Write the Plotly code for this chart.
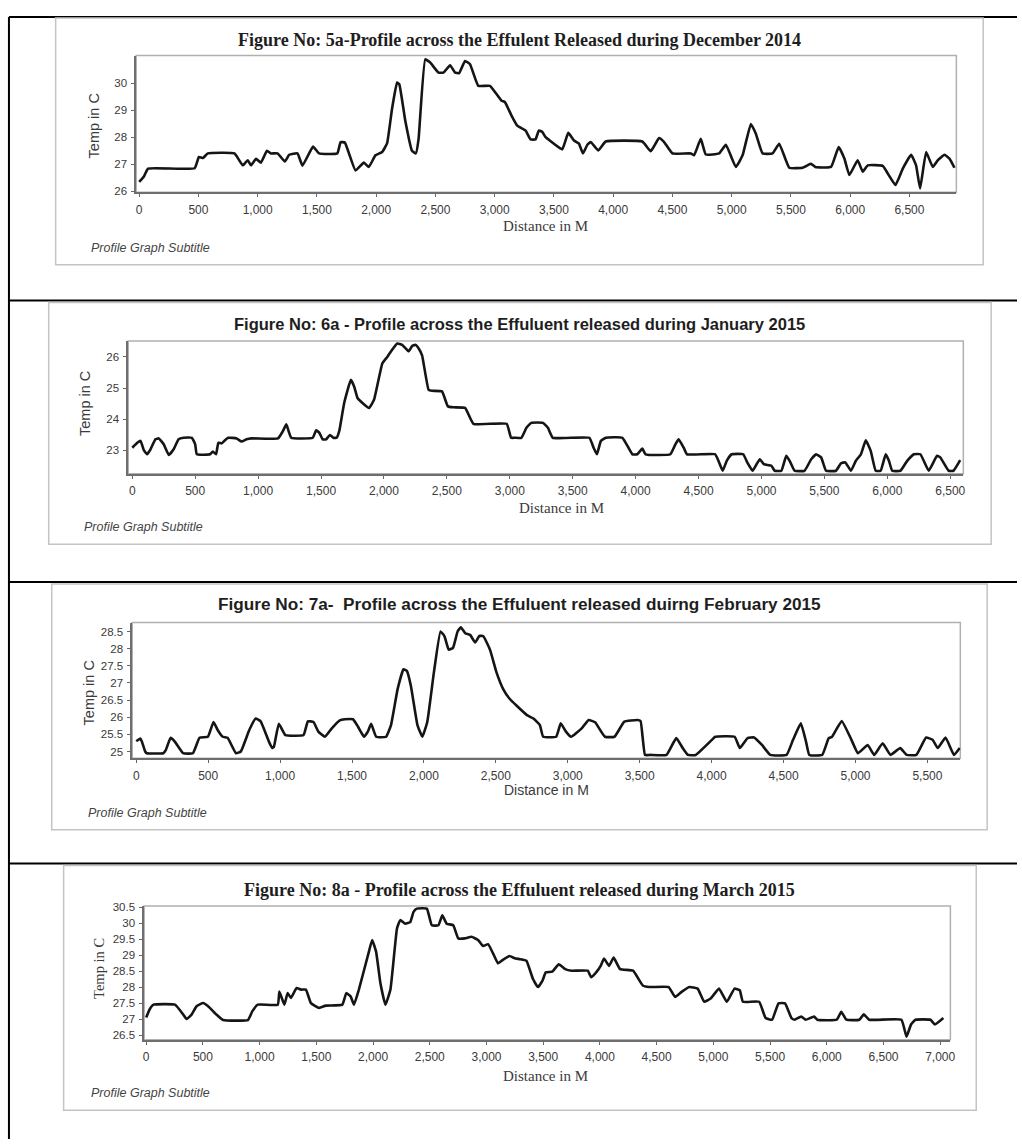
import plotly.graph_objects as go

# ---------------- data: distance (m) and water temperature (deg C) ----------------
dist_dec = [0, 40, 75, 468, 504, 538, 580, 804, 874, 916, 944, 986, 1028, 1078, 1112, 1168,
            1229, 1266, 1336, 1378, 1467, 1518, 1672, 1700, 1736, 1826, 1896, 1938, 1994, 2050,
            2092, 2134, 2176, 2195, 2246, 2302, 2335, 2358, 2414, 2456, 2526, 2568, 2624, 2666,
            2700, 2750, 2792, 2862, 2960, 3058, 3086, 3142, 3190, 3260, 3303, 3345, 3373, 3401,
            3430, 3500, 3570, 3621, 3669, 3711, 3745, 3782, 3810, 3875, 3937, 4246, 4317, 4387,
            4430, 4500, 4655, 4683, 4739, 4782, 4894, 4951, 5035, 5092, 5162, 5204, 5261, 5345,
            5401, 5486, 5599, 5641, 5669, 5706, 5838, 5903, 5951, 5993, 6063, 6106, 6148, 6275,
            6317, 6382, 6444, 6514, 6556, 6590, 6641, 6697, 6740, 6796, 6838, 6880]
temp_dec = [26.35, 26.55, 26.84, 26.85, 27.27, 27.23, 27.40, 27.40, 26.96, 27.15, 26.96, 27.20,
            27.06, 27.50, 27.40, 27.40, 27.10, 27.35, 27.40, 26.95, 27.65, 27.40, 27.40, 27.82,
            27.80, 26.77, 27.06, 26.90, 27.33, 27.45, 27.77, 29.05, 30.02, 29.96, 28.60, 27.50,
            27.40, 27.94, 30.88, 30.76, 30.39, 30.39, 30.66, 30.39, 30.37, 30.82, 30.70, 29.90,
            29.90, 29.35, 29.30, 28.80, 28.43, 28.25, 27.92, 27.92, 28.25, 28.20, 28.00, 27.76,
            27.55, 28.16, 27.88, 27.76, 27.40, 27.72, 27.82, 27.51, 27.84, 27.84, 27.48, 27.97,
            27.82, 27.40, 27.40, 27.33, 27.94, 27.36, 27.40, 27.72, 26.90, 27.33, 28.49, 28.13,
            27.40, 27.40, 27.76, 26.87, 26.87, 26.96, 27.02, 26.90, 26.90, 27.64, 27.21, 26.60,
            27.15, 26.72, 26.96, 26.94, 26.66, 26.23, 26.84, 27.35, 26.96, 26.10, 27.45, 26.90,
            27.15, 27.35, 27.21, 26.87]

dist_jan = [0, 40, 66, 92, 118, 145, 184, 211, 250, 290, 329, 368, 408, 474, 500, 513, 618,
            640, 666, 684, 711, 737, 763, 829, 868, 908, 947, 1158, 1198, 1224, 1263, 1434,
            1461, 1487, 1513, 1540, 1571, 1598, 1624, 1645, 1684, 1737, 1763, 1790, 1829, 1882,
            1921, 1987, 2026, 2053, 2105, 2145, 2197, 2224, 2250, 2276, 2303, 2355, 2382, 2461,
            2508, 2553, 2645, 2711, 2975, 3010, 3039, 3092, 3132, 3171, 3263, 3303, 3342, 3632,
            3666, 3692, 3724, 3763, 3895, 3974, 4013, 4053, 4079, 4276, 4316, 4342, 4382, 4408,
            4632, 4658, 4692, 4724, 4763, 4855, 4887, 4929, 4961, 4987, 5019, 5079, 5105, 5158,
            5197, 5224, 5263, 5342, 5395, 5434, 5474, 5513, 5592, 5632, 5666, 5711, 5750, 5790,
            5829, 5868, 5908, 5947, 5987, 6013, 6039, 6105, 6158, 6211, 6263, 6329, 6395, 6421,
            6487, 6526, 6579]
temp_jan = [23.08, 23.24, 23.30, 23.00, 22.87, 23.03, 23.35, 23.38, 23.19, 22.85, 23.03, 23.35,
            23.40, 23.40, 23.19, 22.87, 22.87, 22.96, 22.87, 23.24, 23.22, 23.32, 23.40, 23.38,
            23.28, 23.35, 23.38, 23.38, 23.62, 23.83, 23.40, 23.40, 23.64, 23.56, 23.35, 23.35,
            23.49, 23.40, 23.40, 23.62, 24.52, 25.26, 25.05, 24.68, 24.52, 24.36, 24.62, 25.79,
            26.00, 26.16, 26.43, 26.39, 26.18, 26.35, 26.39, 26.27, 26.05, 24.94, 24.91, 24.89,
            24.41, 24.38, 24.36, 23.85, 23.85, 23.40, 23.40, 23.40, 23.72, 23.88, 23.88, 23.72,
            23.40, 23.40, 23.08, 22.87, 23.30, 23.40, 23.40, 22.87, 22.87, 23.05, 22.87, 22.87,
            23.19, 23.35, 23.08, 22.87, 22.87, 22.66, 22.34, 22.66, 22.87, 22.87, 22.61, 22.34,
            22.55, 22.71, 22.55, 22.50, 22.34, 22.34, 22.82, 22.66, 22.34, 22.34, 22.71, 22.87,
            22.77, 22.34, 22.34, 22.58, 22.61, 22.34, 22.66, 22.87, 23.32, 22.98, 22.34, 22.34,
            22.87, 22.66, 22.34, 22.34, 22.66, 22.87, 22.87, 22.34, 22.82, 22.77, 22.34, 22.34,
            22.68]

dist_feb = [0, 28, 39, 62, 73, 188, 206, 239, 268, 326, 394, 440, 498, 537, 567, 601, 635,
            693, 727, 785, 830, 865, 922, 945, 957, 991, 1037, 1163, 1193, 1232, 1266, 1312,
            1358, 1415, 1450, 1507, 1542, 1583, 1610, 1633, 1668, 1737, 1771, 1817, 1858, 1881,
            1909, 1955, 1989, 2023, 2069, 2115, 2143, 2172, 2202, 2234, 2257, 2287, 2321, 2356,
            2385, 2413, 2459, 2505, 2551, 2597, 2643, 2716, 2761, 2806, 2829, 2919, 2951, 2987,
            3023, 3100, 3145, 3190, 3258, 3325, 3393, 3483, 3506, 3537, 3574, 3686, 3754, 3799,
            3835, 3889, 4002, 4025, 4160, 4196, 4250, 4295, 4350, 4408, 4521, 4566, 4620, 4656,
            4679, 4769, 4814, 4837, 4904, 4972, 5017, 5085, 5130, 5189, 5243, 5311, 5356, 5423,
            5491, 5536, 5572, 5626, 5685, 5725]
temp_feb = [25.30, 25.38, 25.29, 25.00, 24.95, 24.95, 25.05, 25.40, 25.29, 24.95, 24.95, 25.40,
            25.43, 25.86, 25.62, 25.43, 25.40, 24.95, 25.00, 25.62, 25.96, 25.88, 25.29, 25.10,
            25.14, 25.81, 25.48, 25.48, 25.88, 25.86, 25.58, 25.43, 25.67, 25.91, 25.94, 25.94,
            25.72, 25.43, 25.58, 25.81, 25.43, 25.43, 25.77, 26.82, 27.40, 27.35, 26.92, 25.77,
            25.43, 25.86, 27.30, 28.50, 28.36, 27.97, 28.02, 28.50, 28.62, 28.45, 28.40, 28.18,
            28.37, 28.36, 27.97, 27.30, 26.82, 26.53, 26.34, 26.06, 25.96, 25.77, 25.43, 25.43,
            25.82, 25.58, 25.43, 25.69, 25.92, 25.85, 25.43, 25.43, 25.87, 25.92, 25.89, 24.90,
            24.90, 24.90, 25.39, 25.10, 24.90, 24.90, 25.34, 25.43, 25.43, 25.10, 25.39, 25.41,
            25.19, 24.90, 24.90, 25.34, 25.82, 25.29, 24.90, 24.90, 25.39, 25.43, 25.89, 25.34,
            24.95, 25.19, 24.90, 25.24, 24.90, 25.10, 24.90, 24.90, 25.41, 25.34, 25.10, 25.41,
            24.90, 25.10]

dist_mar = [0, 30, 64, 254, 327, 356, 400, 444, 502, 546, 619, 678, 897, 935, 984, 1160, 1174,
            1218, 1247, 1276, 1326, 1364, 1408, 1452, 1525, 1583, 1729, 1764, 1802, 1832, 1875,
            1963, 1992, 2027, 2065, 2109, 2153, 2211, 2240, 2284, 2328, 2357, 2386, 2474, 2518,
            2576, 2611, 2649, 2707, 2751, 2810, 2868, 2926, 2970, 3014, 3058, 3102, 3145, 3204,
            3248, 3295, 3352, 3409, 3454, 3494, 3523, 3580, 3637, 3694, 3751, 3893, 3922, 3967,
            4007, 4036, 4081, 4121, 4178, 4292, 4378, 4435, 4606, 4663, 4720, 4788, 4862, 4919,
            4976, 5050, 5119, 5187, 5233, 5261, 5404, 5461, 5518, 5575, 5632, 5689, 5717, 5774,
            5814, 5888, 5917, 6088, 6128, 6173, 6287, 6327, 6373, 6658, 6703, 6743, 6783, 6914,
            6954, 7028]
temp_mar = [27.05, 27.30, 27.45, 27.45, 27.14, 27.00, 27.14, 27.40, 27.50, 27.40, 27.14, 26.97,
            26.97, 27.24, 27.45, 27.45, 27.86, 27.45, 27.81, 27.66, 27.97, 27.92, 27.92, 27.50,
            27.35, 27.42, 27.45, 27.81, 27.71, 27.45, 27.92, 29.10, 29.47, 29.10, 28.12, 27.45,
            27.92, 29.83, 30.09, 29.98, 30.03, 30.35, 30.45, 30.45, 29.93, 29.93, 30.24, 29.98,
            29.93, 29.52, 29.52, 29.57, 29.47, 29.28, 29.34, 29.05, 28.74, 28.85, 28.97, 28.90,
            28.87, 28.82, 28.26, 28.00, 28.20, 28.46, 28.48, 28.71, 28.56, 28.51, 28.51, 28.31,
            28.46, 28.66, 28.89, 28.66, 28.92, 28.56, 28.51, 28.05, 28.00, 28.00, 27.69, 27.85,
            28.00, 27.95, 27.54, 27.64, 27.95, 27.54, 27.95, 27.90, 27.54, 27.54, 27.03, 26.98,
            27.49, 27.49, 27.03, 26.98, 27.08, 26.98, 27.08, 26.98, 26.98, 27.23, 26.98, 26.98,
            27.15, 26.98, 26.98, 26.45, 26.83, 26.98, 26.98, 26.83, 27.03]

# ---------------- titles and tick labels ----------------
titles = [
    "Figure No: 5a-Profile across the Effulent Released during December 2014",
    "Figure No: 6a - Profile across the Effuluent released during January 2015",
    "Figure No: 7a-\u00a0 Profile across the Effuluent released duirng February 2015",
    "Figure No: 8a - Profile across the Effuluent released during March 2015",
]
subtitle = "Profile Graph Subtitle"
y_title = "Temp in C"
x_title = "Distance in M"

x_ticks_dec = list(range(0, 7000, 500))
x_ticks_jan = list(range(0, 7000, 500))
x_ticks_feb = list(range(0, 6000, 500))
x_ticks_mar = list(range(0, 7500, 500))

y_ticks_dec = [26, 27, 28, 29, 30]
y_labels_dec = ["26", "27", "28", "29", "30"]
y_ticks_jan = [23, 24, 25, 26]
y_labels_jan = ["23", "24", "25", "26"]
y_ticks_feb = [25, 25.5, 26, 26.5, 27, 27.5, 28, 28.5]
y_labels_feb = ["25", "25.5", "26", "26.5", "27", "27.5", "28", "28.5"]
y_ticks_mar = [26.5, 27, 27.5, 28, 28.5, 29, 29.5, 30, 30.5]
y_labels_mar = ["26.5", "27", "27.5", "28", "28.5", "29", "29.5", "30", "30.5"]

# ---------------- page geometry (pixels) ----------------
W, H = 1022, 1144
SERIF = "Liberation Serif, Times New Roman, serif"
SANS = "Liberation Sans, Arial, sans-serif"


def px(x):
    return x / W


def py(y):
    return 1 - y / H


panels = [
    dict(dist=dist_dec, temp=temp_dec, xt=x_ticks_dec, yt=y_ticks_dec, yl=y_labels_dec,
         box=(55, 13, 988, 262), plot=(136, 51, 961, 189),
         xr=(-25, 6896), yr=(25.96, 31.02),
         title_y=35, title_font=SERIF, title_size=18,
         ytitle=(93, 122, SANS), xtitle=(548, 223, SERIF), sub=(89, 245)),
    dict(dist=dist_jan, temp=temp_jan, xt=x_ticks_jan, yt=y_ticks_jan, yl=y_labels_jan,
         box=(48, 300, 996, 544), plot=(128, 339, 968, 473),
         xr=(-32, 6604), yr=(22.24, 26.51),
         title_y=322, title_font=SANS, title_size=16.5,
         ytitle=(85, 402, SANS), xtitle=(564, 507, SERIF), sub=(81, 527)),
    dict(dist=dist_feb, temp=temp_feb, xt=x_ticks_feb, yt=y_ticks_feb, yl=y_labels_feb,
         box=(51, 584, 992, 832), plot=(132, 623, 965, 760),
         xr=(-28, 5729), yr=(24.8, 28.76),
         title_y=604, title_font=SANS, title_size=17.2,
         ytitle=(88, 694, SANS), xtitle=(549, 792, SANS), sub=(85, 815)),
    dict(dist=dist_mar, temp=temp_mar, xt=x_ticks_mar, yt=y_ticks_mar, yl=y_labels_mar,
         box=(63, 868, 981, 1115), plot=(144, 909, 955, 1044),
         xr=(-18, 7090), yr=(26.35, 30.53),
         title_y=893, title_font=SERIF, title_size=18,
         ytitle=(98, 972, SERIF), xtitle=(548, 1080, SERIF), sub=(89, 1098)),
]

fig = go.Figure()
shapes = []
annotations = []
layout_axes = {}

# table rules framing the four figures
rule = dict(color="#000000", width=2)
shapes.append(dict(type="line", xref="paper", yref="paper", x0=px(8), x1=1, y0=py(12), y1=py(12),
                   line=rule, layer="below"))
shapes.append(dict(type="line", xref="paper", yref="paper", x0=px(8), x1=px(8), y0=py(12), y1=0,
                   line=rule, layer="below"))
for yy in (298, 582, 866):
    shapes.append(dict(type="line", xref="paper", yref="paper", x0=px(8), x1=1, y0=py(yy), y1=py(yy),
                       line=rule, layer="below"))

for i, p in enumerate(panels):
    n = "" if i == 0 else str(i + 1)
    xa, ya = "x" + n, "y" + n
    bx0, by0, bx1, by1 = p["box"]
    lx0, ly0, lx1, ly1 = p["plot"]

    # chart card
    shapes.append(dict(type="rect", xref="paper", yref="paper",
                       x0=px(bx0), x1=px(bx1), y0=py(by1), y1=py(by0),
                       line=dict(color="#c4c4c4", width=1.5), fillcolor="white", layer="below"))
    # plot frame
    shapes.append(dict(type="rect", xref=xa + " domain", yref=ya + " domain",
                       x0=0, x1=1, y0=0, y1=1,
                       line=dict(color="#b0b0b0", width=1.5), layer="below"))

    fig.add_trace(go.Scatter(x=p["dist"], y=p["temp"], mode="lines", xaxis=xa, yaxis=ya,
                             line=dict(color="#151515", width=2.6, shape="spline", smoothing=0.35),
                             showlegend=False, hoverinfo="skip"))

    layout_axes["xaxis" + n] = dict(
        domain=[px(lx0), px(lx1)], range=list(p["xr"]), anchor=ya,
        tickvals=p["xt"], ticktext=[f"{v:,}" for v in p["xt"]],
        ticks="outside", ticklen=3, tickcolor="#666", tickwidth=1,
        showline=True, linecolor="#6e6e6e", linewidth=1.6, showgrid=False, zeroline=False,
        tickfont=dict(family=SANS, size=12, color="#3a3a3a"), ticklabelstandoff=2,
    )
    layout_axes["yaxis" + n] = dict(
        domain=[py(ly1), py(ly0)], range=list(p["yr"]), anchor=xa,
        tickvals=p["yt"], ticktext=p["yl"],
        ticks="outside", ticklen=3, tickcolor="#666", tickwidth=1,
        showline=True, linecolor="#6e6e6e", linewidth=1.6, showgrid=False, zeroline=False,
        tickfont=dict(family=SANS, size=11.5, color="#3a3a3a"), ticklabelstandoff=2,
    )

    annotations.append(dict(text="<b>" + titles[i] + "</b>", xref="paper", yref="paper",
                            x=px((bx0 + bx1) / 2), y=py(p["title_y"]),
                            xanchor="center", yanchor="middle", showarrow=False,
                            font=dict(family=p["title_font"], size=p["title_size"], color="#1e1e1e")))
    tx, ty, tf = p["ytitle"]
    annotations.append(dict(text=y_title, xref="paper", yref="paper", x=px(tx), y=py(ty),
                            xanchor="center", yanchor="middle", textangle=-90, showarrow=False,
                            font=dict(family=tf, size=14.5, color="#3a3a3a")))
    dx, dy, df = p["xtitle"]
    annotations.append(dict(text=x_title, xref="paper", yref="paper", x=px(dx), y=py(dy),
                            xanchor="center", yanchor="middle", showarrow=False,
                            font=dict(family=df, size=15 if df == SERIF else 14, color="#3a3a3a")))
    sx, sy = p["sub"]
    annotations.append(dict(text="<i>" + subtitle + "</i>", xref="paper", yref="paper",
                            x=px(sx), y=py(sy), xanchor="left", yanchor="middle", showarrow=False,
                            font=dict(family=SANS, size=12.5, color="#444")))

fig.update_layout(
    width=W, height=H, margin=dict(l=0, r=0, t=0, b=0),
    paper_bgcolor="white", plot_bgcolor="rgba(0,0,0,0)",
    shapes=shapes, annotations=annotations, showlegend=False,
    **layout_axes,
)

fig.write_html("out.html", config={"displayModeBar": False})
